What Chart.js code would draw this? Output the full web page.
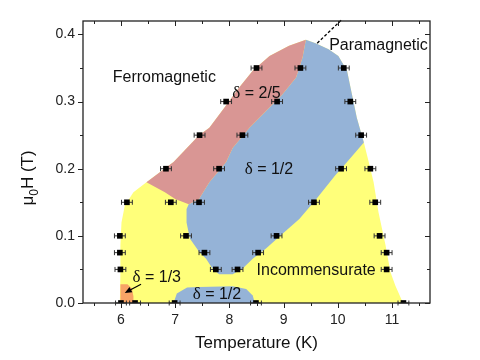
<!DOCTYPE html>
<html>
<head>
<meta charset="utf-8">
<script src="https://cdn.jsdelivr.net/npm/chart.js@4.4.0/dist/chart.umd.min.js"></script>
<style>
  html, body { margin: 0; padding: 0; background: #fff; }
  #wrap { width: 480px; height: 360px; }
</style>
</head>
<body>
<div id="wrap"><canvas id="phase" width="480" height="360"></canvas></div>
<script>
// measured transition points: temperature (K) and field (T)
const ptT = [8.50, 9.31, 10.11,
             7.94, 8.88, 10.23,
             7.45, 8.24, 10.43,
             6.83, 7.81, 10.06, 10.60,
             6.11, 6.92, 7.44, 9.56, 10.69,
             5.98, 7.20, 8.87, 10.77,
             5.98, 7.54, 8.53, 10.90,
             5.99, 7.75, 8.15, 10.90,
             6.00, 6.26, 6.99, 8.49, 11.21];
const ptH = [0.35, 0.35, 0.35,
             0.30, 0.30, 0.30,
             0.25, 0.25, 0.25,
             0.20, 0.20, 0.20, 0.20,
             0.15, 0.15, 0.15, 0.15, 0.15,
             0.10, 0.10, 0.10, 0.10,
             0.075, 0.075, 0.075, 0.075,
             0.05, 0.05, 0.05, 0.05,
             0, 0, 0, 0, 0];
const errT = 0.1;

const xTicks = [6, 7, 8, 9, 10, 11];
const yTicks = [0, 0.1, 0.2, 0.3, 0.4];

// phase regions (outlines)
const yellowT = [5.98, 5.99, 5.99, 6.01, 6.07, 6.23, 6.47, 6.97, 7.44, 7.63, 7.91, 8.18, 8.43, 8.74, 9.10, 9.41,
                 9.59, 9.83, 10.01, 10.17, 10.26, 10.35, 10.48, 10.57, 10.66, 10.75, 10.88, 10.97, 11.06, 11.18, 11.21];
const yellowH = [0, 0.046, 0.086, 0.12, 0.145, 0.165, 0.18, 0.21, 0.25, 0.261, 0.291, 0.321, 0.346, 0.368, 0.383, 0.392,
                 0.387, 0.378, 0.368, 0.346, 0.311, 0.276, 0.239, 0.21, 0.18, 0.135, 0.086, 0.046, 0.026, 0.004, 0];

const pinkT = [9.41, 9.10, 8.74, 8.43, 8.18, 7.91, 7.63, 7.44, 6.97, 6.47, 6.81, 7.00, 7.25,
               7.44, 7.63, 7.94, 8.06, 8.37, 8.675, 8.98, 9.23, 9.35];
const pinkH = [0.392, 0.383, 0.368, 0.346, 0.321, 0.291, 0.261, 0.25, 0.21, 0.18, 0.165, 0.155, 0.147,
               0.155, 0.18, 0.21, 0.231, 0.261, 0.286, 0.311, 0.336, 0.366];

const blueT = [9.41, 9.59, 9.83, 10.01, 10.17, 10.26, 10.35, 10.48,
               10.17, 9.95, 9.585, 9.29, 8.98, 8.675, 8.43, 8.24, 8.06, 7.81, 7.69, 7.57, 7.445, 7.27, 7.21, 7.21, 7.25,
               7.44, 7.63, 7.94, 8.06, 8.37, 8.675, 8.98, 9.23, 9.35];
const blueH = [0.392, 0.387, 0.378, 0.368, 0.346, 0.311, 0.276, 0.239,
               0.21, 0.19, 0.153, 0.125, 0.103, 0.081, 0.066, 0.051, 0.043, 0.043, 0.051, 0.066, 0.076, 0.096, 0.12, 0.14, 0.147,
               0.155, 0.18, 0.21, 0.231, 0.261, 0.286, 0.311, 0.336, 0.366];

const lowBlueT = [6.97, 7.03, 7.22, 7.44, 8.06, 8.31, 8.43, 8.47];
const lowBlueH = [0, 0.014, 0.023, 0.024, 0.025, 0.021, 0.011, 0];

const orangeT = [5.99, 5.99, 6.12, 6.20, 6.23, 6.23];
const orangeH = [0, 0.028, 0.028, 0.022, 0.01, 0];

const phaseLabels = [
    {text: 'Ferromagnetic', T: 6.80, H: 0.329},
    {text: 'Paramagnetic', T: 10.75, H: 0.377},
    {text: 'Incommensurate', T: 9.60, H: 0.041},
    {delta: '2/5', T: 8.50, H: 0.306},
    {delta: '1/2', T: 8.73, H: 0.192},
    {delta: '1/3', T: 6.66, H: 0.031},
    {delta: '1/2', T: 7.77, H: 0.006}
];

function pairs(ts, hs) {
    return ts.map((t, i) => ({x: t, y: hs[i]}));
}

function region(ts, hs, color, order) {
    return {
        data: pairs(ts, hs),
        showLine: true,
        fill: 'shape',
        backgroundColor: color,
        borderWidth: 0,
        pointRadius: 0,
        order: order
    };
}

const SANS = '"Liberation Sans", Arial, sans-serif';
const SERIF = '"Liberation Serif", "Times New Roman", serif';

const decor = {
    id: 'decor',
    beforeDatasetDraw(chart, args) {
        if (args.index !== 0) return;
        let ctx = chart.ctx;
        let x = chart.scales.x, y = chart.scales.y;
        ctx.save();
        ctx.strokeStyle = '#333';
        ctx.lineWidth = 1;
        for (let i = 0; i < ptT.length; i++) {
            let x1 = x.getPixelForValue(ptT[i] - errT);
            let x2 = x.getPixelForValue(ptT[i] + errT);
            let py = y.getPixelForValue(ptH[i]);
            ctx.beginPath();
            ctx.moveTo(x1, py); ctx.lineTo(x2, py);
            ctx.moveTo(x1, py - 2.5); ctx.lineTo(x1, py + 2.5);
            ctx.moveTo(x2, py - 2.5); ctx.lineTo(x2, py + 2.5);
            ctx.stroke();
        }
        ctx.restore();
    },
    afterDatasetsDraw(chart) {
        let ctx = chart.ctx;
        let x = chart.scales.x, y = chart.scales.y;
        let a = chart.chartArea;
        ctx.save();

        // dashed line towards the paramagnetic label
        ctx.strokeStyle = '#000';
        ctx.lineWidth = 1.3;
        ctx.setLineDash([3, 2]);
        ctx.beginPath();
        ctx.moveTo(x.getPixelForValue(9.62), y.getPixelForValue(0.387));
        ctx.lineTo(x.getPixelForValue(10.06), y.getPixelForValue(0.421));
        ctx.stroke();
        ctx.setLineDash([]);

        // arrow to the delta = 1/3 pocket
        let tx = x.getPixelForValue(6.37), ty = y.getPixelForValue(0.028);
        let hx = x.getPixelForValue(6.07), hy = y.getPixelForValue(0.015);
        let ang = Math.atan2(hy - ty, hx - tx);
        ctx.lineWidth = 1.2;
        ctx.beginPath();
        ctx.moveTo(tx, ty);
        ctx.lineTo(hx - 4 * Math.cos(ang), hy - 4 * Math.sin(ang));
        ctx.stroke();
        ctx.fillStyle = '#000';
        ctx.beginPath();
        ctx.moveTo(hx, hy);
        ctx.lineTo(hx - 7 * Math.cos(ang) + 3 * Math.sin(ang), hy - 7 * Math.sin(ang) - 3 * Math.cos(ang));
        ctx.lineTo(hx - 7 * Math.cos(ang) - 3 * Math.sin(ang), hy - 7 * Math.sin(ang) + 3 * Math.cos(ang));
        ctx.closePath();
        ctx.fill();

        // phase names
        ctx.fillStyle = '#111';
        ctx.textBaseline = 'alphabetic';
        phaseLabels.forEach(l => {
            let px = x.getPixelForValue(l.T), py = y.getPixelForValue(l.H);
            if (l.text) {
                ctx.font = '16px ' + SANS;
                ctx.textAlign = 'center';
                ctx.fillText(l.text, px, py);
            } else {
                ctx.font = '17px ' + SERIF;
                let w1 = ctx.measureText('\u03b4').width;
                ctx.font = '16px ' + SANS;
                let rest = ' = ' + l.delta;
                let w2 = ctx.measureText(rest).width;
                let x0 = px - (w1 + w2) / 2;
                ctx.textAlign = 'left';
                ctx.font = '17px ' + SERIF;
                ctx.fillText('\u03b4', x0, py);
                ctx.font = '16px ' + SANS;
                ctx.fillText(rest, x0 + w1, py);
            }
        });

        // frame and ticks
        ctx.strokeStyle = '#222';
        ctx.lineWidth = 1.3;
        ctx.strokeRect(a.left, a.top, a.right - a.left, a.bottom - a.top);
        ctx.lineWidth = 1;
        ctx.beginPath();
        for (let v = 5.5; v <= 11.5 + 1e-9; v += 0.5) {
            let px = Math.round(x.getPixelForValue(v)) + 0.5;
            let len = Math.abs(v - Math.round(v)) < 1e-6 ? 5 : 3;
            ctx.moveTo(px, a.bottom); ctx.lineTo(px, a.bottom + len);
            ctx.moveTo(px, a.top); ctx.lineTo(px, a.top + len);
        }
        for (let k = 0; k <= 8; k++) {
            let v = k * 0.05;
            let py = Math.round(y.getPixelForValue(v)) + 0.5;
            let len = k % 2 === 0 ? 5 : 3;
            ctx.moveTo(a.left, py); ctx.lineTo(a.left - len, py);
            ctx.moveTo(a.right, py); ctx.lineTo(a.right - len, py);
        }
        ctx.stroke();

        // axis titles
        ctx.fillStyle = '#111';
        ctx.font = '17px ' + SANS;
        ctx.textAlign = 'center';
        ctx.fillText('Temperature (K)', (a.left + a.right) / 2, 348);

        ctx.translate(33, 178);
        ctx.rotate(-Math.PI / 2);
        ctx.font = '17px ' + SANS;
        let wMu = ctx.measureText('\u03bc').width;
        let wH = ctx.measureText('H (T)').width;
        ctx.font = '12px ' + SANS;
        let wSub = ctx.measureText('0').width;
        let sx = -(wMu + wSub + wH) / 2;
        ctx.textAlign = 'left';
        ctx.font = '17px ' + SANS;
        ctx.fillText('\u03bc', sx, 0);
        ctx.font = '12px ' + SANS;
        ctx.fillText('0', sx + wMu, 5);
        ctx.font = '17px ' + SANS;
        ctx.fillText('H (T)', sx + wMu + wSub, 0);

        ctx.restore();
    }
};

const ctx = document.getElementById('phase');

new Chart(ctx, {
    type: 'scatter',
    data: {
        datasets: [
            {
                data: pairs(ptT, ptH),
                pointStyle: 'rect',
                pointRadius: 4,
                backgroundColor: '#000',
                borderColor: '#000',
                borderWidth: 0,
                order: 0
            },
            region(orangeT, orangeH, '#f8a466', 1),
            region(lowBlueT, lowBlueH, '#95b3d7', 1),
            region(pinkT, pinkH, '#d99694', 2),
            region(blueT, blueH, '#95b3d7', 2),
            region(yellowT, yellowH, '#ffff7a', 3)
        ]
    },
    options: {
        responsive: false,
        animation: false,
        layout: {padding: {top: 21, right: 50, left: 0, bottom: 0}},
        plugins: {
            legend: {display: false},
            tooltip: {enabled: false}
        },
        scales: {
            x: {
                type: 'linear',
                min: 5.3,
                max: 11.7,
                afterBuildTicks: s => { s.ticks = xTicks.map(v => ({value: v})); },
                afterFit: s => { s.height = 57; },
                grid: {display: false, drawTicks: false},
                border: {display: false},
                ticks: {
                    padding: 9,
                    color: '#222',
                    font: {family: SANS, size: 14},
                    callback: v => String(v)
                }
            },
            y: {
                type: 'linear',
                min: 0,
                max: 0.42,
                afterBuildTicks: s => { s.ticks = yTicks.map(v => ({value: v})); },
                afterFit: s => { s.width = 83; },
                grid: {display: false, drawTicks: false},
                border: {display: false},
                ticks: {
                    padding: 8,
                    color: '#222',
                    font: {family: SANS, size: 14},
                    callback: v => v.toFixed(1)
                }
            }
        }
    },
    plugins: [decor]
});
</script>
</body>
</html>
